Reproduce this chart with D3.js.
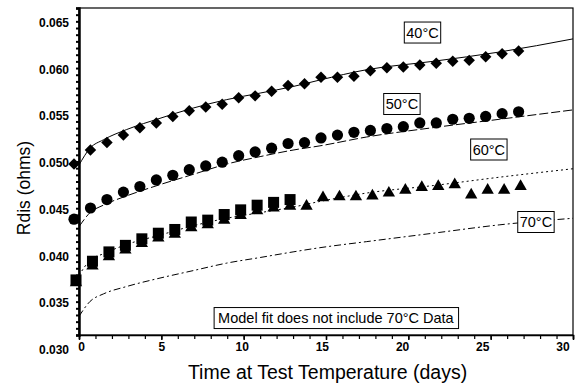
<!DOCTYPE html>
<html><head><meta charset="utf-8">
<script src="https://cdn.jsdelivr.net/npm/d3@7"></script>
<style>body{margin:0;background:#fff}svg{display:block}</style>
</head><body>
<svg id="c" width="579" height="392"></svg>
<script>
// ---- data ----
const days = [0,1,2,3,4,5,6,7,8,9,10,11,12,13,14,15,16,17,18,19,20,21,22,23,24,25,26,27];
const r40 = [0.0499,0.0514,0.0522,0.0530,0.0538,0.0543,0.0550,0.0556,0.0560,0.0563,0.0570,0.0572,0.0577,0.0583,0.0585,0.0592,0.0592,0.0593,0.0599,0.0602,0.0603,0.0605,0.0607,0.0609,0.0610,0.0614,0.0617,0.0620];
const r50 = [0.0440,0.0452,0.0461,0.0469,0.0475,0.0482,0.0487,0.0493,0.0497,0.0501,0.0508,0.0512,0.0516,0.0521,0.0522,0.0527,0.0530,0.0533,0.0535,0.0537,0.0539,0.0543,0.0543,0.0547,0.0548,0.0550,0.0553,0.0555];
const daysSq = [0,1,2,3,4,5,6,7,8,9,10,11,12,13];
const r60sq = [0.0375,0.0395,0.0405,0.0412,0.0419,0.0425,0.0429,0.0437,0.0439,0.0445,0.0450,0.0455,0.0458,0.0461];
const r60tri = [0.0372,0.0390,0.0400,0.0407,0.0414,0.0420,0.0424,0.0431,0.0434,0.0439,0.0444,0.0449,0.0452,0.0454,0.0454,0.0463,0.0464,0.0464,0.0465,0.0468,0.0471,0.0474,0.0475,0.0477,0.0466,0.0471,0.0471,0.0475];
const fitT  = [0,0.67,1.48,2.9,4.92,6.94,8.97,11,13,14.63,17.47,21.51,25.56,30];
const fit40 = [0.0498,0.0516,0.0525,0.0536,0.0548,0.0559,0.0568,0.0575,0.0582,0.0589,0.0600,0.0609,0.0619,0.0633];
const fit50 = [0.0432,0.0447,0.0455,0.0465,0.0477,0.0488,0.0499,0.0507,0.0514,0.05185,0.0528,0.0538,0.0547,0.0557];
const fit60 = [0.0380,0.0396,0.0403,0.0413,0.0423,0.0433,0.0441,0.0447,0.0453,0.0459,0.0468,0.0476,0.0485,0.0494];
const fit70 = [0.0336,0.0352,0.0360,0.0368,0.0377,0.0385,0.0393,0.0399,0.0405,0.04095,0.0416,0.0425,0.0434,0.0441];
const xTicks = [0,5,10,15,20,25,30];
const yTicks = [0.030,0.035,0.040,0.045,0.050,0.055,0.060,0.065];
const labels = [
  {text:"40\u00B0C", t:20.86, v:0.06398},
  {text:"50\u00B0C", t:19.61, v:0.05633},
  {text:"60\u00B0C", t:24.89, v:0.05146},
  {text:"70\u00B0C", t:27.75, v:0.04370}
];
const note = {text:"Model fit does not include 70\u00B0C Data", t:15.6, v:0.03342};

// ---- layout ----
const W = 579, H = 392;
const frame = {left:79, right:573, top:8, bottom:335};
const FONT = "Liberation Sans, Arial, sans-serif";
const svg = d3.select("#c");
const x = d3.scaleLinear().domain([0,30]).range([frame.left, frame.right]);
const xMark = d3.scaleLinear().domain([0,30]).range([frame.left-5, frame.right-5]);
const xLab = d3.scaleLinear().domain([0,30]).range([81.7, 563]);
const y = d3.scaleLinear().domain([0.030,0.065]).range([350, 23]);

svg.append("rect").attr("width",W).attr("height",H).attr("fill","#fff");

svg.append("defs").append("clipPath").attr("id","clip").append("rect")
  .attr("x",frame.left).attr("y",frame.top)
  .attr("width",frame.right-frame.left).attr("height",frame.bottom-frame.top);

// frame
svg.append("rect").attr("x",frame.left).attr("y",frame.top)
  .attr("width",frame.right-frame.left).attr("height",frame.bottom-frame.top)
  .attr("fill","none").attr("stroke","#000").attr("stroke-width",1.2);

// x axis ticks (minor each day, major every 5)
const xAx = svg.append("g").attr("transform",`translate(0,${frame.bottom})`)
  .call(d3.axisBottom(x).tickValues(d3.range(0,31,1)).tickSize(4).tickFormat(""));
xAx.select(".domain").attr("stroke","#000").attr("stroke-width",1.5);
xAx.selectAll(".tick line").attr("stroke","#000").attr("stroke-width",1.2);
svg.append("g").attr("transform",`translate(0,${frame.bottom})`)
  .call(d3.axisBottom(x).tickValues(xTicks).tickSize(5).tickFormat(""))
  .call(g=>g.select(".domain").remove())
  .selectAll(".tick line").attr("stroke","#000").attr("stroke-width",1.5);

// y axis minor ticks
const yTickScale = d3.scaleLinear().domain([0,49]).range([frame.bottom, frame.top]);
const yAx = svg.append("g").attr("transform",`translate(${frame.left},0)`)
  .call(d3.axisLeft(yTickScale).tickValues(d3.range(0,50,1)).tickSize(3).tickFormat(""));
yAx.select(".domain").attr("stroke","#000").attr("stroke-width",2.5);
yAx.selectAll(".tick line").attr("stroke","#000").attr("stroke-width",2);

// tick labels
svg.append("g").selectAll("text").data(xTicks).join("text")
  .attr("x",d=>xLab(d)).attr("y",351).attr("text-anchor","middle")
  .attr("font-family",FONT).attr("font-weight","bold")
  .attr("font-size",12).text(d=>d);
svg.append("g").selectAll("text").data(yTicks).join("text")
  .attr("x",69).attr("y",d=>y(d)+4).attr("text-anchor","end")
  .attr("font-family",FONT).attr("font-weight","bold")
  .attr("font-size",12).text(d=>d3.format(".3f")(d));

// axis titles
svg.append("text").attr("x",327.5).attr("y",379)
  .attr("text-anchor","middle").attr("font-family",FONT)
  .attr("font-size",19.5).text("Time at Test Temperature (days)");
svg.append("text").attr("transform",`translate(30,188) rotate(-90)`)
  .attr("text-anchor","middle").attr("font-family",FONT)
  .attr("font-size",17.5).text("Rdis (ohms)");

// fit curves
const plot = svg.append("g").attr("clip-path","url(#clip)");
const fits = [
  {v:fit40, dash:null},
  {v:fit50, dash:"9,3"},
  {v:fit60, dash:"2,3"},
  {v:fit70, dash:"7,3,2,3"}
];
const line = d3.line().curve(d3.curveMonotoneX);
fits.forEach(f=>{
  plot.append("path")
    .attr("d", line(fitT.map((t,i)=>[x(t), y(f.v[i])])))
    .attr("fill","none").attr("stroke","#000").attr("stroke-width",1)
    .attr("stroke-dasharray",f.dash);
});

// markers
const mk = svg.append("g");
mk.selectAll(".tri").data(days).join("path")
  .attr("transform",(d,i)=>`translate(${xMark(d)+2},${y(r60tri[i])})`)
  .attr("d",d3.symbol(d3.symbolTriangle,66)).attr("fill","#000");
mk.selectAll(".sq").data(daysSq).join("rect")
  .attr("x",(d)=>xMark(d)+2-5.5).attr("y",(d,i)=>y(r60sq[i])-5.5)
  .attr("width",11).attr("height",11).attr("fill","#000");
mk.selectAll(".ci").data(days).join("circle")
  .attr("cx",d=>xMark(d)).attr("cy",(d,i)=>y(r50[i])).attr("r",5.6).attr("fill","#000");
mk.selectAll(".di").data(days).join("path")
  .attr("transform",(d,i)=>`translate(${xMark(d)},${y(r40[i])}) rotate(45)`)
  .attr("d",d3.symbol(d3.symbolSquare,66)).attr("fill","#000");

// labels
function boxLabel(l, pad){
  const gx = x(l.t), gy = y(l.v);
  const g = svg.append("g");
  const t = g.append("text").attr("x",gx).attr("y",gy+5).attr("text-anchor","middle")
    .attr("font-family",FONT).attr("font-size",14.5).text(l.text);
  const bb = t.node().getBBox();
  g.insert("rect","text").attr("x",bb.x-pad).attr("y",gy-10.5).attr("width",bb.width+2*pad).attr("height",21)
    .attr("fill","#fff").attr("stroke","#000").attr("stroke-width",1);
}
labels.forEach(l=>boxLabel(l,2));
boxLabel(note,4);
</script>
</body></html>
